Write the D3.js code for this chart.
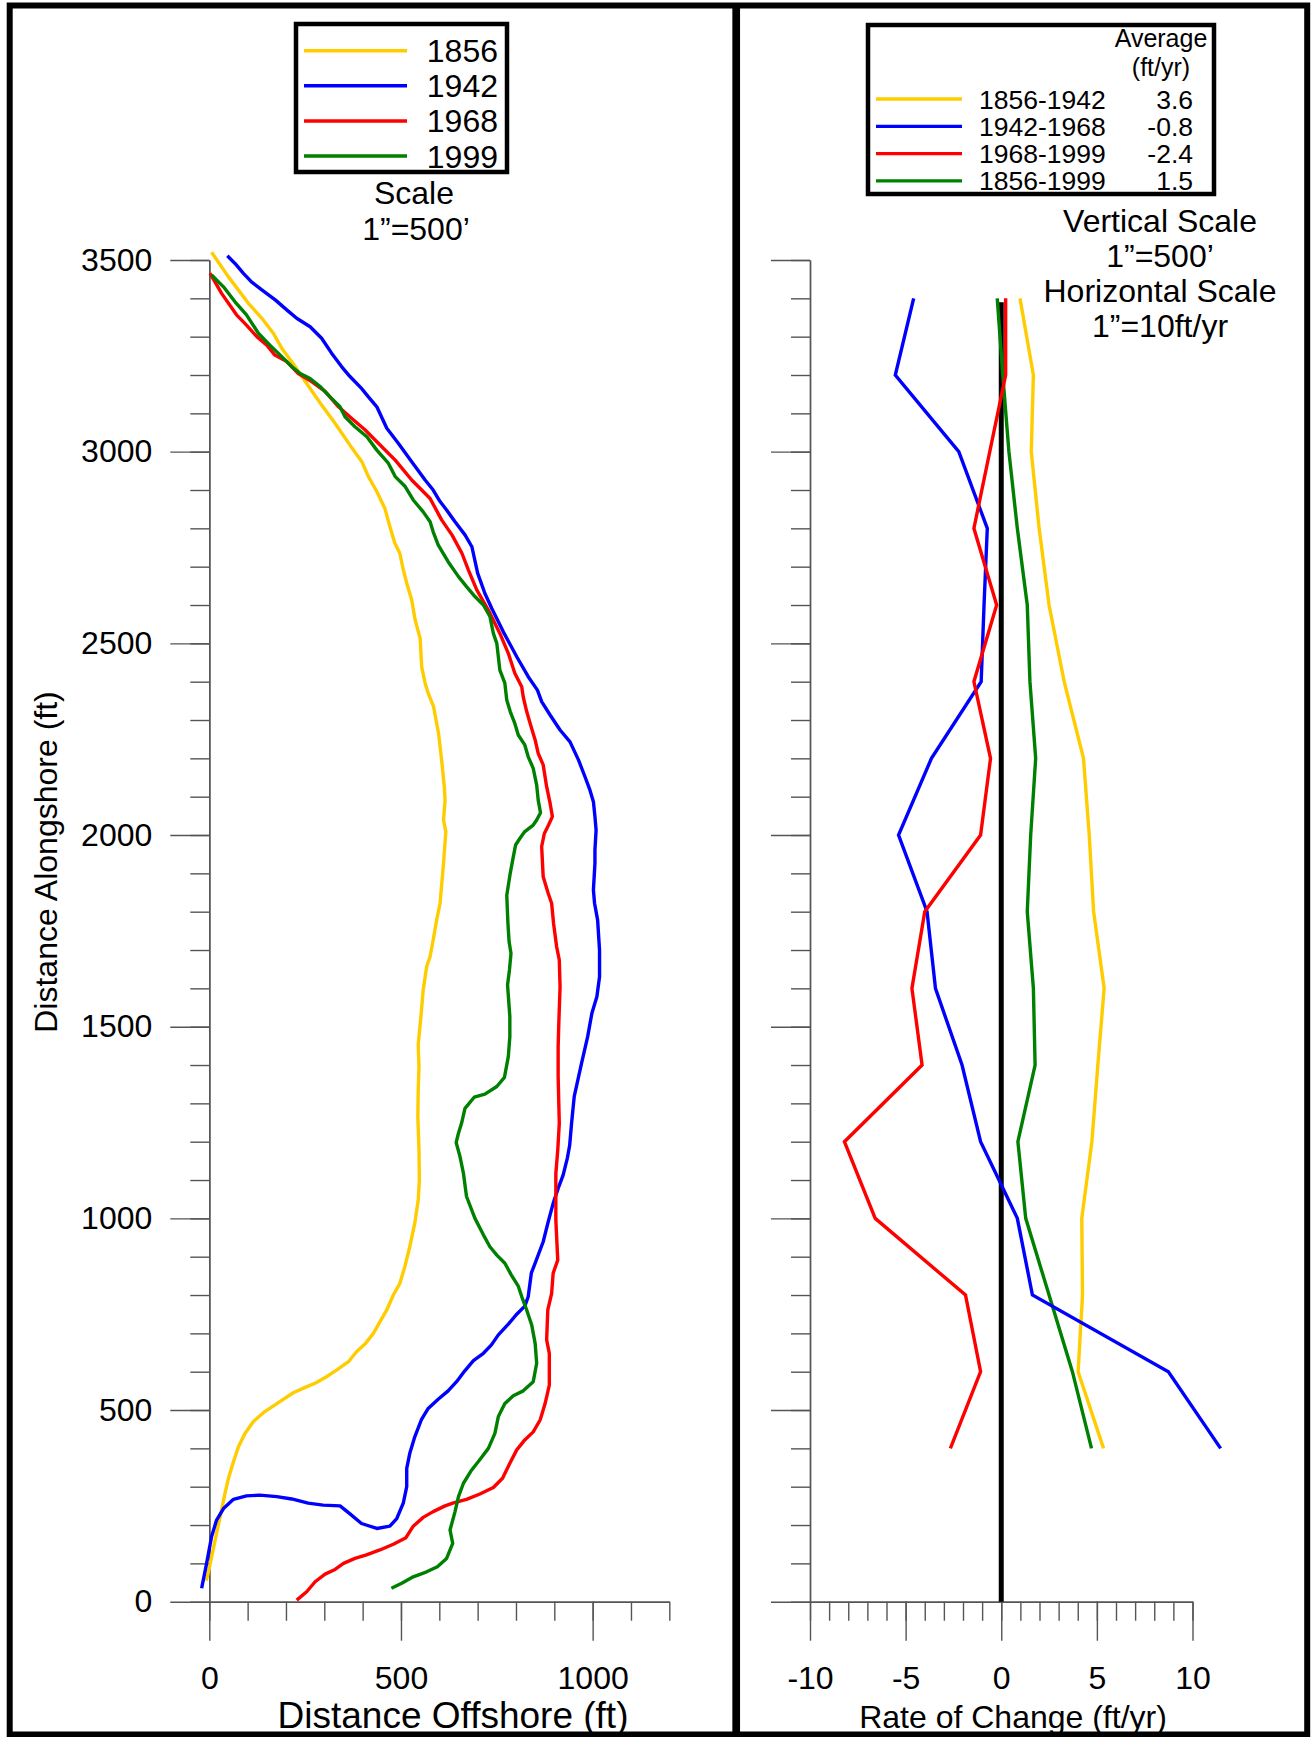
<!DOCTYPE html>
<html>
<head>
<meta charset="utf-8">
<script src="https://cdn.jsdelivr.net/npm/d3@7"></script>
<style>
  html, body { margin: 0; padding: 0; background: #fff; }
  svg { display: block; font-family: "Liberation Sans", Arial, Helvetica, sans-serif; }
</style>
</head>
<body>
<svg id="chart" width="1312" height="1737"></svg>
<script>
// Shoreline positions, [distance offshore (ft), distance alongshore (ft)]
const shoreline1856 = [
  [-8,55],[-3,74],[6,117],[19,178],[32,239],[41,283],[50,322],[63,365],[76,404],[93,439],
  [115,470],[141,493],[184,522],[219,545],[250,559],[276,570],[306,587],[332,604],[363,626],
  [384,652],[406,672],[428,700],[445,730],[463,761],[480,800],[497,830],[510,874],[523,926],
  [536,987],[545,1048],[548,1100],[547,1178],[544,1265],[545,1335],[547,1396],[545,1453],
  [552,1526],[558,1596],[567,1657],[576,1683],[584,1726],[593,1778],[602,1822],[605,1857],
  [611,1926],[617,2009],[611,2039],[615,2091],[613,2126],[606,2196],[598,2265],[585,2335],
  [571,2370],[563,2396],[554,2439],[550,2513],[537,2561],[528,2613],[515,2657],[506,2692],
  [497,2735],[484,2761],[471,2805],[458,2852],[437,2896],[415,2935],[398,2974],[367,3017],
  [328,3074],[293,3122],[263,3165],[224,3222],[189,3270],[167,3309],[137,3348],[102,3387],
  [50,3456],[6,3520]
];
const shoreline1942 = [
  [-20,35],[-7,100],[6,170],[19,213],[37,243],[63,267],[97,276],[132,278],[176,274],[215,268],
  [258,257],[297,252],[341,250],[367,229],[397,204],[437,191],[471,197],[489,217],[506,257],
  [515,300],[515,348],[523,387],[536,430],[553,474],[571,504],[597,528],[623,550],[645,574],
  [667,603],[689,629],[715,648],[736,670],[754,696],[780,724],[802,750],[823,771],[832,796],
  [840,857],[853,891],[871,939],[884,991],[897,1039],[910,1078],[923,1113],[934,1157],
  [940,1190],[945,1248],[952,1318],[971,1404],[987,1474],[998,1535],[1011,1578],[1018,1630],
  [1018,1700],[1013,1778],[1005,1822],[1002,1857],[1006,1926],[1006,1961],[1009,2013],
  [1006,2048],[1002,2087],[993,2117],[980,2152],[963,2196],[941,2243],[915,2274],[889,2313],
  [867,2348],[856,2378],[832,2413],[802,2465],[767,2530],[737,2591],[719,2630],[700,2683],
  [685,2752],[667,2783],[641,2817],[619,2848],[602,2870],[584,2900],[563,2926],[528,2974],
  [493,3022],[463,3061],[437,3117],[415,3143],[397,3165],[367,3196],[345,3222],[319,3257],
  [293,3296],[263,3326],[228,3348],[202,3370],[172,3396],[137,3422],[110,3443],[89,3465],
  [67,3491],[47,3511]
];
const shoreline1968 = [
  [228,4],[254,26],[276,52],[302,72],[328,84],[350,100],[380,113],[410,122],[445,135],[480,150],
  [513,167],[532,197],[558,220],[584,235],[615,250],[637,258],[671,267],[706,281],[741,298],
  [765,322],[784,361],[802,396],[823,422],[845,443],[863,474],[876,517],[887,565],[887,648],
  [880,683],[883,761],[893,804],[897,857],[909,891],[904,996],[904,1117],[909,1178],[913,1248],
  [910,1370],[910,1448],[912,1517],[915,1604],[913,1674],[906,1709],[898,1770],[893,1822],
  [884,1848],[871,1891],[867,1970],[874,2004],[885,2026],[895,2048],[889,2083],[880,2126],
  [871,2183],[858,2213],[850,2248],[837,2291],[828,2322],[819,2360],[815,2387],[797,2422],
  [780,2474],[758,2526],[728,2587],[698,2639],[676,2691],[659,2735],[633,2783],[606,2822],
  [576,2878],[528,2926],[485,2978],[441,3022],[406,3057],[371,3087],[337,3117],[302,3157],
  [267,3183],[232,3204],[202,3235],[171,3252],[150,3278],[124,3300],[97,3330],[71,3357],
  [32,3413],[2,3465]
];
const shoreline1999 = [
  [475,35],[502,48],[532,65],[567,78],[595,91],[619,113],[635,152],[628,187],[641,235],[650,274],
  [663,309],[684,343],[706,371],[728,400],[745,439],[754,483],[771,517],[793,537],[819,550],
  [845,574],[854,622],[850,674],[841,722],[828,761],[815,796],[806,823],[788,852],[771,883],
  [750,904],[732,926],[715,957],[693,1000],[671,1057],[663,1117],[654,1161],[644,1198],
  [650,1222],[658,1248],[667,1287],[691,1316],[719,1324],[750,1344],[770,1368],[780,1422],
  [784,1474],[784,1526],[778,1609],[783,1648],[787,1691],[782,1722],[779,1770],[776,1843],
  [785,1900],[793,1943],[799,1974],[810,1991],[823,2009],[845,2026],[854,2039],[864,2058],
  [858,2091],[854,2130],[845,2174],[832,2204],[823,2235],[806,2261],[797,2291],[785,2322],
  [776,2352],[771,2396],[758,2430],[750,2500],[741,2526],[732,2570],[715,2600],[693,2622],
  [671,2648],[650,2674],[623,2713],[597,2757],[584,2791],[576,2817],[558,2843],[532,2874],
  [511,2909],[485,2935],[467,2970],[437,3004],[411,3039],[380,3065],[354,3091],[341,3117],
  [319,3139],[289,3170],[263,3191],[237,3204],[215,3222],[189,3248],[158,3278],[128,3309],
  [97,3357],[67,3391],[37,3430],[6,3461]
];
const years = ["1856", "1942", "1968", "1999"];

// Rates of shoreline change (ft/yr) at each transect
const transects = [400, 600, 800, 1000, 1200, 1400, 1600, 1800, 2000, 2200, 2400, 2600, 2800, 3000, 3200, 3400];
const rate1856to1942 = [5.35, 4.02, 4.25, 4.21, 4.74, 5.05, 5.38, 4.83, 4.6, 4.3, 3.29, 2.5, 1.98, 1.57, 1.68, 0.98];
const rate1942to1968 = [11.47, 8.74, 1.63, 0.84, -1.08, -2.05, -3.44, -3.88, -5.37, -3.65, -1.05, -0.9, -0.73, -2.22, -5.54, -4.58];
const rate1968to1999 = [-2.66, -1.08, -1.87, -6.59, -8.2, -4.14, -4.67, -4.0, -1.08, -0.56, -1.43, -0.24, -1.43, -0.6, 0.23, 0.23];
const rate1856to1999 = [4.72, 3.72, 2.5, 1.28, 0.87, 1.77, 1.68, 1.36, 1.54, 1.8, 1.5, 1.36, 0.84, 0.4, 0.08, -0.21];
const periods = ["1856-1942", "1942-1968", "1968-1999", "1856-1999"];
const periodAverages = ["3.6", "-0.8", "-2.4", "1.5"];
const zeroLineExtent = [0, 3390];

// Axis ticks
const alongshoreMinorTicks = d3.range(0, 3501, 100);
const alongshoreMajorTicks = [0, 500, 1000, 1500, 2000, 2500, 3000, 3500];
const offshoreMinorTicks = d3.range(0, 1201, 100);
const offshoreMajorTicks = [0, 500, 1000];
const rateMinorTicks = d3.range(-10, 11, 1);
const rateMajorTicks = [-10, -5, 0, 5, 10];

// ---- drawing ----
const colors = ["#FFCC00", "#0000FF", "#FF0000", "#008000"];
const axisColor = "#555";
const svg = d3.select("#chart");

const y = d3.scaleLinear().domain([0, 3500]).range([1601.7, 260]);
const xOff = d3.scaleLinear().domain([0, 1200]).range([209.3, 209.3 + 1200 * (1341.7 / 3500)]);
const xRate = d3.scaleLinear().domain([-10, 10]).range([810, 1192.5]);

function styleAxis(g, fontSize) {
  g.attr("font-family", null).attr("font-size", null);
  g.selectAll("path, line").attr("stroke", axisColor).attr("stroke-width", 1.4);
  g.selectAll("text").attr("fill", "#000").style("font-size", fontSize + "px");
}

// Left panel axes
const leftY = 209.3;
svg.append("g").attr("transform", `translate(${leftY},0)`)
  .call(d3.axisLeft(y).tickValues(alongshoreMinorTicks).tickSize(19).tickSizeOuter(0).tickFormat(""))
  .call(g => styleAxis(g, 32));
svg.append("g").attr("transform", `translate(${leftY},0)`)
  .call(d3.axisLeft(y).tickValues(alongshoreMajorTicks).tickSize(39).tickSizeOuter(0).tickPadding(18).tickFormat(d => String(d)))
  .call(g => styleAxis(g, 32));
svg.append("g").attr("transform", `translate(0,${y(0)})`)
  .call(d3.axisBottom(xOff).tickValues(offshoreMinorTicks).tickSize(19).tickSizeOuter(0).tickFormat(""))
  .call(g => styleAxis(g, 32));
svg.append("g").attr("transform", `translate(0,${y(0)})`)
  .call(d3.axisBottom(xOff).tickValues(offshoreMajorTicks).tickSize(39).tickSizeOuter(0).tickPadding(26).tickFormat(d => String(d)))
  .call(g => styleAxis(g, 32));

// Right panel axes
const rightY = xRate(-10);
svg.append("g").attr("transform", `translate(${rightY},0)`)
  .call(d3.axisLeft(y).tickValues(alongshoreMinorTicks).tickSize(19).tickSizeOuter(0).tickFormat(""))
  .call(g => styleAxis(g, 32));
svg.append("g").attr("transform", `translate(${rightY},0)`)
  .call(d3.axisLeft(y).tickValues(alongshoreMajorTicks).tickSize(39).tickSizeOuter(0).tickFormat(""))
  .call(g => styleAxis(g, 32));
svg.append("g").attr("transform", `translate(0,${y(0)})`)
  .call(d3.axisBottom(xRate).tickValues(rateMinorTicks).tickSize(19).tickSizeOuter(0).tickFormat(""))
  .call(g => styleAxis(g, 32));
svg.append("g").attr("transform", `translate(0,${y(0)})`)
  .call(d3.axisBottom(xRate).tickValues(rateMajorTicks).tickSize(39).tickSizeOuter(0).tickPadding(26).tickFormat(d => String(d)))
  .call(g => styleAxis(g, 32));

// Shoreline curves
const shoreLine = d3.line().x(d => xOff(d[0])).y(d => y(d[1]));
const shorelines = [shoreline1856, shoreline1942, shoreline1968, shoreline1999];
shorelines.forEach((s, i) => {
  svg.append("path").attr("d", shoreLine(s))
    .attr("fill", "none").attr("stroke", colors[i])
    .attr("stroke-width", 3.4).attr("stroke-linejoin", "round");
});

// Zero-rate reference line
svg.append("line")
  .attr("x1", xRate(0)).attr("x2", xRate(0))
  .attr("y1", y(zeroLineExtent[0])).attr("y2", y(zeroLineExtent[1]))
  .attr("stroke", "#000").attr("stroke-width", 5);

// Rate-of-change profiles
const rateLine = d3.line().x(d => xRate(d[0])).y(d => y(d[1]));
const rateSeries = [rate1856to1942, rate1942to1968, rate1968to1999, rate1856to1999];
[0, 3, 1, 2].forEach(i => {
  const pts = transects.map((t, k) => [rateSeries[i][k], t]);
  svg.append("path").attr("d", rateLine(pts))
    .attr("fill", "none").attr("stroke", colors[i])
    .attr("stroke-width", 3.4).attr("stroke-linejoin", "miter");
});

// Left legend
const legL = svg.append("g");
legL.append("rect").attr("x", 296).attr("y", 24).attr("width", 211).attr("height", 148)
  .attr("fill", "none").attr("stroke", "#000").attr("stroke-width", 4.5);
years.forEach((yr, i) => {
  const cy = 50.7 + i * 35.1;
  legL.append("line").attr("x1", 304).attr("x2", 407).attr("y1", cy).attr("y2", cy)
    .attr("stroke", colors[i]).attr("stroke-width", 3.5);
  legL.append("text").attr("x", 498).attr("y", cy + 11.5).attr("text-anchor", "end")
    .style("font-size", "32px").text(yr);
});
svg.append("text").attr("x", 414).attr("y", 204).attr("text-anchor", "middle").style("font-size", "32px").text("Scale");
svg.append("text").attr("x", 416).attr("y", 240).attr("text-anchor", "middle").style("font-size", "32px").text("1\u201D=500\u2019");

// Right legend
const legR = svg.append("g");
legR.append("rect").attr("x", 868).attr("y", 25).attr("width", 346).attr("height", 169)
  .attr("fill", "none").attr("stroke", "#000").attr("stroke-width", 4.5);
legR.append("text").attr("x", 1161).attr("y", 47).attr("text-anchor", "middle").style("font-size", "25px").text("Average");
legR.append("text").attr("x", 1161).attr("y", 76).attr("text-anchor", "middle").style("font-size", "25px").text("(ft/yr)");
periods.forEach((p, i) => {
  const cy = 99 + i * 27.3;
  legR.append("line").attr("x1", 876).attr("x2", 962).attr("y1", cy).attr("y2", cy)
    .attr("stroke", colors[i]).attr("stroke-width", 3.3);
  legR.append("text").attr("x", 979).attr("y", cy + 9.5).style("font-size", "26.5px").text(p);
  legR.append("text").attr("x", 1193).attr("y", cy + 9.5).attr("text-anchor", "end").style("font-size", "26.5px").text(periodAverages[i]);
});
const scaleNotes = ["Vertical Scale", "1\u201D=500\u2019", "Horizontal Scale", "1\u201D=10ft/yr"];
scaleNotes.forEach((t, i) => {
  svg.append("text").attr("x", 1160).attr("y", 232 + i * 35).attr("text-anchor", "middle")
    .style("font-size", "32px").text(t);
});

// Axis titles
svg.append("text").attr("transform", "translate(57,862) rotate(-90)").attr("text-anchor", "middle")
  .style("font-size", "32px").text("Distance Alongshore (ft)");
svg.append("text").attr("x", 453).attr("y", 1728).attr("text-anchor", "middle")
  .style("font-size", "37px").text("Distance Offshore (ft)");
svg.append("text").attr("x", 1013).attr("y", 1728).attr("text-anchor", "middle")
  .style("font-size", "32px").text("Rate of Change (ft/yr)");

// Frame and panel divider
svg.append("rect").attr("x", 9.7).attr("y", 5.5).attr("width", 1297.5).attr("height", 1729)
  .attr("fill", "none").attr("stroke", "#000").attr("stroke-width", 6);
svg.append("line").attr("x1", 736.2).attr("x2", 736.2).attr("y1", 3).attr("y2", 1737)
  .attr("stroke", "#000").attr("stroke-width", 7.7);
</script>
</body>
</html>
